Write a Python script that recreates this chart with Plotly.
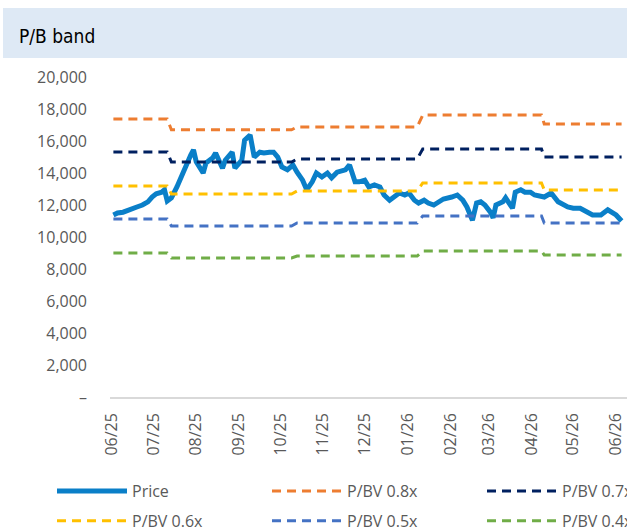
import plotly.graph_objects as go

# ---- data ----
price_dates = [
    "2025-06-02","2025-06-05","2025-06-09","2025-06-12","2025-06-16","2025-06-19","2025-06-23","2025-06-27",
    "2025-06-30","2025-07-03","2025-07-07","2025-07-09","2025-07-11","2025-07-14","2025-07-18","2025-07-22",
    "2025-07-25","2025-07-28","2025-07-30","2025-08-01","2025-08-06","2025-08-08","2025-08-13","2025-08-15",
    "2025-08-20","2025-08-22","2025-08-27","2025-08-29","2025-09-03","2025-09-05","2025-09-09","2025-09-12",
    "2025-09-16","2025-09-19","2025-09-23","2025-09-26","2025-09-29","2025-10-02","2025-10-06","2025-10-10",
    "2025-10-13","2025-10-17","2025-10-20","2025-10-24","2025-10-27","2025-10-31","2025-11-04","2025-11-07",
    "2025-11-11","2025-11-17","2025-11-20","2025-11-24","2025-11-27","2025-12-01","2025-12-04","2025-12-08",
    "2025-12-12","2025-12-15","2025-12-19","2025-12-22","2025-12-26","2025-12-30","2026-01-02","2026-01-06",
    "2026-01-09","2026-01-13","2026-01-16","2026-01-20","2026-01-23","2026-01-27","2026-02-02","2026-02-06",
    "2026-02-10","2026-02-13","2026-02-17","2026-02-20","2026-02-23","2026-02-26","2026-03-02","2026-03-04",
    "2026-03-06","2026-03-11","2026-03-13","2026-03-18","2026-03-20","2026-03-24","2026-03-27","2026-03-31",
    "2026-04-03","2026-04-10","2026-04-15","2026-04-20","2026-04-27","2026-05-01","2026-05-06","2026-05-11",
    "2026-05-15","2026-05-21","2026-05-26","2026-06-01","2026-06-05",
]
price = [
    11375, 11500, 11550, 11625, 11750, 11875, 12000, 12200,
    12500, 12700, 12800, 12950, 12250, 12450, 13125, 14000,
    14625, 15125, 15450, 14700, 14000, 14625, 14950, 15250,
    14300, 14800, 15300, 14300, 14800, 16050, 16375, 15000,
    15300, 15250, 15300, 15300, 15000, 14375, 14200, 14500,
    14050, 13550, 12950, 13450, 14000, 13750, 14000, 13700,
    14050, 14200, 14500, 13450, 13450, 13550, 13125, 13250,
    13125, 12625, 12300, 12500, 12750, 12625, 12750, 12300,
    12125, 12300, 12125, 12000, 12200, 12375, 12500, 12625,
    12300, 11875, 11050, 12125, 12200, 12000, 11550, 11200,
    12000, 12200, 12450, 11800, 12800, 12950, 12800, 12800,
    12625, 12500, 12750, 12200, 11875, 11800, 11800, 11550,
    11375, 11375, 11700, 11375, 11000,
]

band_dates = ["2025-06-02", "2025-07-11", "2025-07-14", "2025-10-09", "2025-10-13",
              "2026-01-08", "2026-01-12", "2026-04-08", "2026-04-10", "2026-06-05"]
pbv_08 = [17375, 17375, 16700, 16700, 16875, 16875, 17625, 17625, 17060, 17060]
pbv_07 = [15310, 15310, 14690, 14690, 14875, 14875, 15500, 15500, 15000, 15000]
pbv_06 = [13190, 13190, 12690, 12690, 12875, 12875, 13375, 13375, 12940, 12940]
pbv_05 = [11125, 11125, 10690, 10690, 10875, 10875, 11310, 11310, 10875, 10875]
pbv_04 = [9000, 9000, 8690, 8690, 8810, 8810, 9125, 9125, 8875, 8875]

y_ticks = [0, 2000, 4000, 6000, 8000, 10000, 12000, 14000, 16000, 18000, 20000]
y_ticktext = ["–", "2,000", "4,000", "6,000", "8,000", "10,000", "12,000", "14,000",
              "16,000", "18,000", "20,000"]

# (name, values, colour, legend column)
bands = [
    ("P/BV 0.8x", pbv_08, "#ED7D31", "legend2"),
    ("P/BV 0.7x", pbv_07, "#002060", "legend3"),
    ("P/BV 0.6x", pbv_06, "#FFC000", "legend"),
    ("P/BV 0.5x", pbv_05, "#4472C4", "legend2"),
    ("P/BV 0.4x", pbv_04, "#70AD47", "legend3"),
]

FONT = "Open Sans, Noto Sans, sans-serif"
GRAY = "#595959"

fig = go.Figure()
fig.add_trace(go.Scatter(x=price_dates, y=price, mode="lines", name="Price",
                         line=dict(color="#0A7FC8", width=5), legend="legend",
                         legendgroup="g0", legendrank=1))
for i, (name, vals, col, lg) in enumerate(bands):
    fig.add_trace(go.Scatter(x=band_dates, y=vals, mode="lines", name=name,
                             line=dict(color=col, width=3, dash="9px,6px"), legend=lg,
                             legendgroup="g%d" % (i + 1), legendrank=2 + i))

W, H = 627, 531
L, T, B = 110, 77, 134
pw, ph = W - L, H - T - B
IW = 70


def px_x(p):
    return (p - L) / pw


def px_y(p):
    return (H - B - p) / ph


def leg(xpx):
    return dict(orientation="v", xref="container", yref="container",
                x=xpx / W, y=1 - 474 / H, xanchor="left", yanchor="top",
                tracegroupgap=6, itemwidth=IW,
                font=dict(size=16, color=GRAY), bgcolor="rgba(0,0,0,0)")


fig.update_layout(
    width=W, height=H,
    margin=dict(l=L, r=0, t=T, b=B, autoexpand=False),
    paper_bgcolor="white", plot_bgcolor="white",
    font=dict(family=FONT, color=GRAY, size=16),
    showlegend=True,
    legend=leg(92 - (IW - 30)),
    legend2=leg(307 - (IW - 30)),
    legend3=leg(522 - (IW - 30)),
    xaxis=dict(type="date", range=["2025-05-30 13:00", "2026-06-08 22:00"],
               tick0="2025-06-01", dtick="M1", tickformat="%m/%y", tickangle=-90,
               showgrid=False, zeroline=False, showline=True, linecolor="#D9D9D9",
               linewidth=1.5, ticks="", ticklabelstandoff=8,
               tickfont=dict(size=16, color=GRAY)),
    yaxis=dict(range=[0, 20000], tickvals=y_ticks, ticktext=y_ticktext,
               showgrid=False, zeroline=False, showline=False, ticks="",
               ticklabelstandoff=22, tickfont=dict(size=16, color=GRAY)),
    shapes=[dict(type="rect", xref="paper", yref="paper",
                 x0=px_x(3), x1=px_x(W + 5), y0=px_y(58), y1=px_y(8),
                 fillcolor="#DEE9F5", line=dict(width=0), layer="below")],
    annotations=[dict(text="P/B band", xref="paper", yref="paper",
                      x=px_x(17), y=px_y(36), xanchor="left", yanchor="middle",
                      showarrow=False,
                      font=dict(family="DejaVu Sans Condensed, Roboto, sans-serif",
                                size=19, color="#000000"))],
)

fig.write_html("out.html", config={"displayModeBar": False},
               post_script="document.body.style.margin='0px';document.body.style.overflow='hidden';")
